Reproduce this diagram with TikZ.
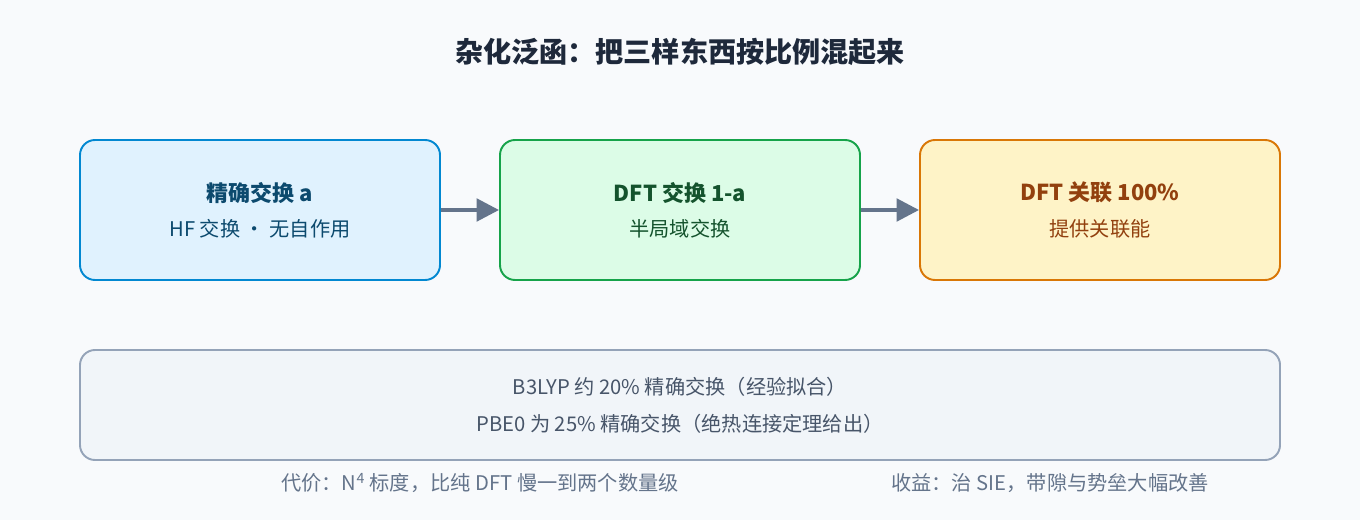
\documentclass[tikz,border=0pt]{standalone}
\usepackage{fontspec}
\setmainfont{Noto Sans CJK SC}
\usetikzlibrary{arrows.meta,positioning}
\definecolor{bgc}{HTML}{F8FAFC}
\definecolor{titlec}{HTML}{1E293B}
\definecolor{hfill}{HTML}{E0F2FE}\definecolor{hdraw}{HTML}{0288D1}\definecolor{htext}{HTML}{0C4A6E}
\definecolor{xfill}{HTML}{DCFCE7}\definecolor{xdraw}{HTML}{16A34A}\definecolor{xtext}{HTML}{14532D}
\definecolor{cfill}{HTML}{FEF3C7}\definecolor{cdraw}{HTML}{D97706}\definecolor{ctext}{HTML}{92400E}
\definecolor{nfill}{HTML}{F1F5F9}\definecolor{ndraw}{HTML}{94A3B8}\definecolor{ntext}{HTML}{475569}
\definecolor{arrc}{HTML}{64748B}
\tikzset{part/.style={draw, rounded corners=0.3cm, line width=1.1pt, minimum width=7.2cm, minimum height=2.8cm, align=center, font=\fontsize{11.5}{20}\selectfont},
  flow/.style={draw=arrc, line width=2.2pt, -{Triangle[length=0.45cm,width=0.45cm]}}}
\begin{document}
\begin{tikzpicture}
\fill[bgc] (0,0) rectangle (27.2,-10.4);
\node[font=\fontsize{16}{20}\selectfont\bfseries, text=titlec] (title) at (13.6,-1.04) {杂化泛函：把三样东西按比例混起来};
\node[part, fill=hfill, draw=hdraw, text=htext] (hf) at (5.2,-4.2) {{\fontsize{12.5}{20}\selectfont\bfseries 精确交换 a}\\HF 交换 · 无自作用};
\node[part, fill=xfill, draw=xdraw, text=xtext] (dftx) at (13.6,-4.2) {{\fontsize{12.5}{20}\selectfont\bfseries DFT 交换 1-a}\\半局域交换};
\node[part, fill=cfill, draw=cdraw, text=ctext] (dftc) at (22,-4.2) {{\fontsize{12.5}{20}\selectfont\bfseries DFT 关联 100\%}\\提供关联能};
\draw[flow] (hf) -- (dftx);
\draw[flow] (dftx) -- (dftc);
\node[part, fill=nfill, draw=ndraw, text=ntext, minimum width=24cm, minimum height=2.2cm, font=\fontsize{11.5}{21}\selectfont] (note) at (13.6,-8.1) {B3LYP 约 20\% 精确交换（经验拟合）\\PBE0 为 25\% 精确交换（绝热连接定理给出）};
\node[text=arrc, font=\fontsize{11.5}{14}\selectfont] (cost) at (9.6,-9.66) {代价：N\textsuperscript{4} 标度，比纯 DFT 慢一到两个数量级};
\node[text=arrc, font=\fontsize{11.5}{14}\selectfont] (gain) at (21,-9.66) {收益：治 SIE，带隙与势垒大幅改善};
\end{tikzpicture}
\end{document}
